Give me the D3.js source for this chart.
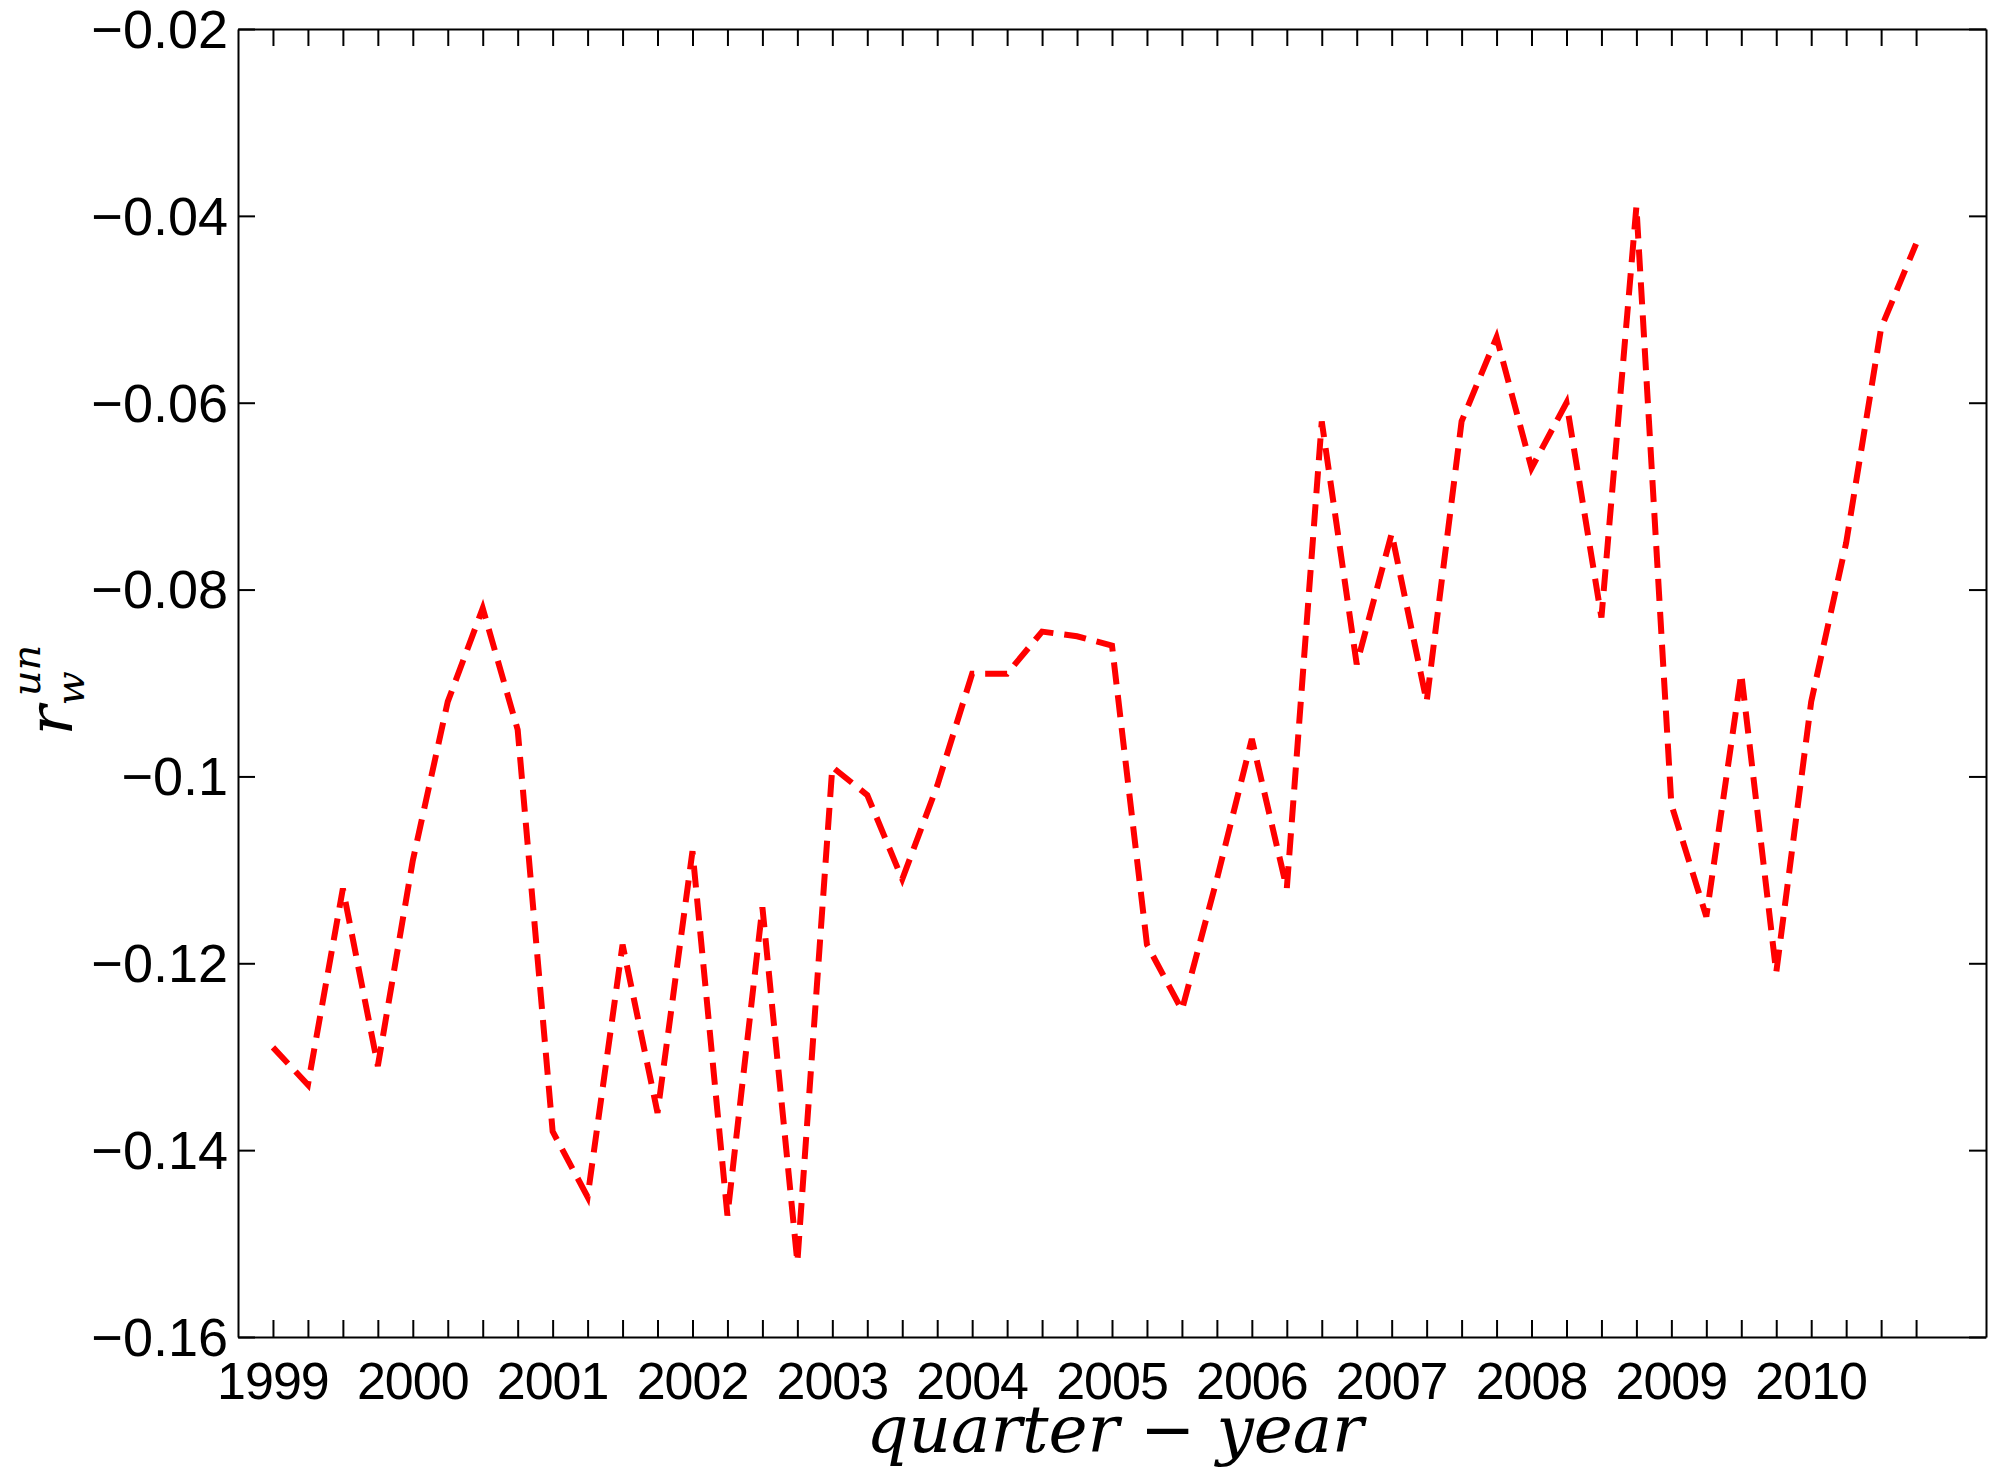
<!DOCTYPE html>
<html><head><meta charset="utf-8">
<script src="https://d3js.org/d3.v7.min.js"></script>
<style>body{margin:0;background:#fff}</style></head>
<body><svg id="c" width="2011" height="1477"></svg>
<script>
const yearLabels=["1999","2000","2001","2002","2003","2004","2005","2006","2007","2008","2009","2010"];
const yTicks=[-0.16,-0.14,-0.12,-0.1,-0.08,-0.06,-0.04,-0.02];
const values=[-0.129,-0.133,-0.112,-0.131,-0.109,-0.092,-0.082,-0.095,-0.138,-0.145,
-0.118,-0.136,-0.108,-0.147,-0.114,-0.152,-0.099,-0.102,-0.111,-0.101,
-0.089,-0.089,-0.0845,-0.085,-0.086,-0.118,-0.125,-0.111,-0.096,-0.112,
-0.062,-0.088,-0.074,-0.092,-0.062,-0.053,-0.067,-0.060,-0.083,-0.039,
-0.103,-0.115,-0.089,-0.121,-0.092,-0.075,-0.052,-0.043];
const svg=d3.select("#c");
const L=238,R=1986,T=29,B=1337;
const x=d3.scaleLinear().domain([0,50]).range([L,R]);
const y=d3.scaleLinear().domain([-0.16,-0.02]).range([B,T]);
const idx=d3.range(1,values.length+1);
const fmt=d=>(d===-0.1?"\u22120.1":"\u2212"+Math.abs(d).toString());
const font="'Liberation Sans', Arial, sans-serif";
const gb=svg.append("g").attr("transform",`translate(0,${B})`).call(d3.axisBottom(x).tickValues(idx).tickSizeInner(-17).tickSizeOuter(0).tickFormat(""));
const gt=svg.append("g").attr("transform",`translate(0,${T})`).call(d3.axisTop(x).tickValues(idx).tickSizeInner(-17).tickSizeOuter(0).tickFormat(""));
const gl=svg.append("g").attr("transform",`translate(${L},0)`).call(d3.axisLeft(y).tickValues(yTicks).tickSizeInner(-17).tickSizeOuter(0).tickFormat(fmt).tickPadding(8));
const gr=svg.append("g").attr("transform",`translate(${R},0)`).call(d3.axisRight(y).tickValues(yTicks).tickSizeInner(-17).tickSizeOuter(0).tickFormat(""));
[gb,gt,gl,gr].forEach(g=>{g.selectAll("path.domain").attr("stroke","#000").attr("stroke-width",2);g.selectAll("line").attr("stroke","#000").attr("stroke-width",2);});
gl.selectAll("text").attr("font-family",font).attr("font-size",54).attr("fill","#000").attr("dx",-2).attr("dy","0.34em");
svg.append("g").selectAll("text").data(yearLabels).join("text")
 .attr("x",(d,i)=>x(1+4*i)).attr("y",B+62).attr("text-anchor","middle")
 .attr("font-family",font).attr("font-size",52).attr("letter-spacing",-1).text(d=>d);
svg.append("path").datum(values).attr("fill","none").attr("stroke","#ff0000").attr("stroke-width",6)
 .attr("stroke-dasharray","22,11")
 .attr("d",d3.line().x((d,i)=>x(i+1)).y(d=>y(d)));
svg.append("text").attr("x",1115).attr("y",1452).attr("text-anchor","middle")
 .attr("font-family","'DejaVu Serif', serif").attr("font-style","italic").attr("font-size",66)
 .text("quarter \u2212 year");
const yl=svg.append("text").attr("transform","translate(72,690) rotate(-90)").attr("text-anchor","middle")
 .attr("font-family","'DejaVu Serif', serif").attr("font-style","italic").attr("font-size",62);
yl.append("tspan").text("r");
yl.append("tspan").attr("font-size",40).attr("dy",12).text("w");
yl.append("tspan").attr("font-size",40).attr("dx",-25).attr("dy",-44).text("un");
</script></body></html>
